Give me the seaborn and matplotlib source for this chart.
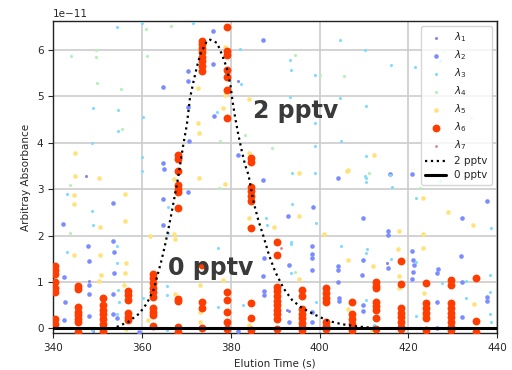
import numpy as np
import pandas as pd
import matplotlib
matplotlib.use("Agg")
import matplotlib.pyplot as plt
import seaborn as sns

# Absorbance values are listed in units of 1e-11
SCALE = 1e-11

# lambda_1 (faint violet)
lam1_t = [381.6, 348.1, 393.0, 415.2, 347.3, 392.6, 348.9]
lam1_a = [5.34, 1.03, 0.38, 1.41, 3.28, 0.40, -0.06]

# lambda_2 (blue)
lam2_t = [370.4, 370.3, 364.8, 370.4, 370.6, 364.8, 365.0,
          376.1, 387.2, 376.1, 376.2, 387.4, 381.7, 404.1, 420.8, 415.9,
          353.5, 364.8, 370.4, 342.3, 364.8, 347.9, 353.5, 353.7, 348.1, 353.7,
          342.5, 348.1, 353.5, 348.1, 342.6, 342.5, 348.1, 353.5, 354.3, 359.4,
          387.2, 398.5, 392.9, 398.3, 398.3, 398.4, 398.4, 387.4, 393.0, 387.2,
          404.1, 404.1, 404.1, 387.4, 387.4, 404.3, 404.3, 393.0, 398.4, 398.4, 381.6,
          409.7, 415.4, 415.4, 432.1, 437.7, 420.8, 421.1, 421.2, 421.0, 420.8,
          409.7, 415.4, 409.6, 426.6, 426.5, 431.9, 432.1, 437.7, 437.7, 409.7,
          409.7, 426.5, 432.1, 426.5]
lam2_a = [5.54, 5.32, 5.20, 4.76, 4.04, 3.56, 3.44,
          6.40, 6.22, 5.70, 4.58, 4.75, 3.74, 3.25, 3.33, 3.33,
          2.71, 2.79, 2.94, 2.25, 2.23, 1.78, 1.89, 1.64, 1.45, 1.20,
          1.11, 0.93, 0.75, 0.73, 0.57, 0.19, 0.27, 0.32, 0.22, -0.07,
          3.20, 2.61, 2.41, 1.77, 1.60, 1.51, 1.26, 1.51, 1.36, 1.13,
          1.35, 1.26, 0.99, 0.81, 0.72, 0.66, 0.59, 0.14, 0.36, 0.14, -0.06,
          2.38, 2.10, 2.01, 2.37, 2.74, 1.67, 1.47, 1.36, 1.22, 1.06,
          1.47, 1.31, 1.15, 1.27, 1.20, 1.56, 0.99, 0.68, 0.59, 0.50,
          0.37, 0.57, 0.24, 0.00]

# lambda_3 (light cyan)
lam3_t = [354.3, 359.9, 371.4, 348.9, 354.5, 360.3, 354.5, 348.7, 359.9, 359.9,
          382.1, 393.4, 393.6, 399.0, 404.7, 382.3, 393.4, 404.7, 376.9, 399.0,
          404.8, 399.0, 393.8, 399.0,
          410.3, 416.1, 421.6, 427.1, 410.5, 410.5, 410.3, 415.9,
          343.0, 348.7, 348.9, 343.2, 354.3, 354.3, 354.5, 354.9, 354.3, 360.2,
          365.6, 365.6, 365.8, 365.9, 348.7, 365.6,
          377.1, 393.8, 399.2, 404.9, 387.9, 388.1, 393.6, 393.6, 393.6, 382.7,
          377.1, 399.2,
          410.5, 410.5, 416.2, 427.2, 421.7, 438.6, 410.7, 410.5, 416.1, 421.7,
          427.6, 432.9, 438.5, 438.3, 432.9, 410.5, 421.7, 438.3, 438.6, 412.2]
lam3_a = [6.49, 6.58, 6.58, 4.75, 4.71, 4.55, 4.26, 3.99, 3.69, 3.40,
          6.02, 5.79, 5.56, 5.45, 6.21, 5.27, 4.98, 4.96, 4.66, 4.42,
          4.03, 3.92, 3.35, 3.35,
          6.00, 5.68, 5.63, 5.75, 4.80, 3.71, 3.28, 3.31,
          2.89, 2.53, 2.23, 1.65, 1.40, 1.78, 0.83, 0.57, 0.32, 0.66,
          0.92, 0.72, 2.62, 2.05, -0.04, -0.04,
          1.74, 2.69, 2.26, 1.78, 2.38, 2.23, 1.87, 1.81, 1.20, 0.50,
          0.47, 0.57,
          3.25, 3.16, 3.05, 3.17, 2.80, 2.17, 1.72, 1.63, 1.49, 1.42,
          0.97, 1.02, 1.15, 0.78, 0.65, 0.61, 0.27, 0.30, 0.14, 0.07]

# lambda_4 (pale green)
lam4_t = [366.5, 360.8, 349.6, 344.1, 349.6, 361.1, 349.8, 355.2, 355.4,
          394.5, 400.2, 405.6, 383.1, 377.6, 389.3,
          428.0, 434.0, 411.2, 343.8, 343.8, 377.4, 394.5, 422.7]
lam4_a = [6.52, 6.44, 5.99, 5.87, 5.85, 5.87, 5.29, 5.16, 4.30,
          5.88, 5.45, 5.43, 4.17, 4.03, 3.89,
          5.97, 4.53, 3.35, 3.09, 2.05, 3.02, 1.22, 3.03]

# lambda_5 (yellow)
lam5_t = [344.9, 344.9, 350.3, 372.7, 372.7, 372.9, 378.6, 384.0, 378.3, 378.6,
          384.0, 395.3, 406.2, 412.2, 406.4, 423.7, 372.9,
          344.7, 344.7, 356.2, 356.2, 350.5, 344.7, 350.5, 356.4, 350.8, 350.4,
          361.7, 367.3, 367.3, 367.4, 367.4, 356.4, 356.2, 356.0, 361.4,
          378.6, 384.0, 389.8, 384.1, 395.4, 400.9, 373.1, 378.3, 395.3, 373.1,
          373.1, 384.1,
          423.4, 428.9, 434.6, 417.8, 423.4, 417.6, 423.4, 406.4, 412.0, 417.8,
          417.8, 423.6, 434.7, 406.4, 423.6, 411.8, 418.2]
lam5_a = [3.78, 3.28, 3.25, 5.18, 4.42, 4.21, 6.06, 4.94, 4.75, 5.03,
          3.78, 3.35, 3.38, 3.74, 3.42, 3.31, 3.23,
          2.87, 2.69, 2.89, 2.32, 2.18, 1.58, 1.58, 1.40, 1.15, 1.02,
          2.00, 3.21, 2.03, 1.92, 0.75, -0.02, 1.19, 0.93, 0.18,
          3.10, 2.37, 2.19, 2.18, 2.41, 2.03, 0.93, 1.04, 1.06, 0.36,
          0.14, 0.07,
          2.80, 2.51, 2.23, 2.10, 2.03, 1.70, 1.74, 1.47, 1.35, 1.13,
          0.86, 0.77, 0.52, 0.42, 0.29, -0.04, -0.03]

# lambda_6 (red-orange), grouped by sampling time
lam6_t = [340.3] * 8 + [345.6] * 8 + [351.3] * 8 + [356.8] * 6 + [362.4] * 10 \
    + [368.2] * 11 + [373.6] * 12 + [379.1] * 12 + [384.6] * 10 + [390.3] * 11 \
    + [396.1] * 8 + [401.5] * 7 + [407.3] * 6 + [412.8] * 8 + [418.3] * 8 \
    + [424.0] * 6 + [429.6] * 9 + [435.3] * 3
lam6_a = [1.35, 1.25, 1.18, 1.00, 0.88, 0.78, 0.20, 0.10,
          0.92, 0.85, 0.45, 0.35, 0.28, 0.20, 0.14, -0.08,
          0.65, 0.50, 0.40, 0.30, 0.20, 0.10, 0.00, -0.05,
          0.80, 0.72, 0.62, 0.33, 0.25, 0.17,
          1.18, 1.08, 0.98, 0.88, 0.78, 0.68, 0.44, 0.36, 0.28, 0.05,
          3.73, 3.65, 3.40, 3.08, 3.00, 2.93, 2.60, 0.63, 0.58, 0.03, -0.07,
          6.20, 6.12, 6.05, 5.95, 5.85, 5.75, 5.65, 5.55, 1.36, 0.57, 0.44, 0.00,
          6.50, 5.98, 5.90, 5.57, 5.42, 5.14, 4.53, 0.79, 0.61, 0.36, 0.14, -0.02,
          3.67, 3.58, 3.05, 2.95, 2.85, 2.75, 2.16, 0.54, 0.22, -0.04,
          1.87, 1.58, 0.90, 0.80, 0.70, 0.60, 0.50, 0.40, 0.30, 0.20, -0.02,
          0.83, 0.70, 0.42, 0.32, 0.22, 0.12, 0.04, -0.04,
          0.86, 0.76, 0.66, 0.57, 0.14, 0.05, -0.02,
          0.56, 0.30, 0.20, 0.10, 0.00, -0.04,
          1.00, 0.92, 0.86, 0.57, 0.48, 0.39, 0.22, -0.02,
          1.45, 0.95, 0.44, 0.34, 0.24, 0.14, 0.04, -0.02,
          0.97, 0.54, 0.44, 0.34, 0.22, -0.04,
          1.04, 0.93, 0.54, 0.44, 0.34, 0.24, 0.14, 0.04, -0.04,
          1.08, 0.16, -0.07]

# lambda_7 (faint red)
lam7_t = [391.4]
lam7_a = [1.74]

# 2 pptv reference elution profile
peak_t = [354.3, 356.9, 359.4, 361.1, 362.6, 363.5, 364.4, 365.2, 365.9, 366.7,
          367.4, 368.1, 369.3, 370.1, 370.8, 371.6, 372.3, 373.1, 374.6, 375.3,
          376.9, 378.0, 379.1, 379.9, 380.4, 381.0, 381.7, 382.5, 383.2, 384.0,
          385.1, 386.2, 387.4, 388.6, 390.0, 391.9, 393.8, 396.0, 399.0, 402.0,
          405.0, 408.5, 412.0, 414.5]
peak_a = [0.03, 0.14, 0.32, 0.54, 0.83, 1.15, 1.47, 1.80, 2.12, 2.51,
          2.87, 3.23, 3.96, 4.39, 4.96, 5.32, 5.61, 5.90, 6.19, 6.22,
          6.15, 5.90, 5.61, 5.25, 4.89, 4.53, 4.17, 3.81, 3.53, 3.30,
          2.73, 2.33, 1.97, 1.58, 1.22, 0.86, 0.61, 0.44, 0.29, 0.16,
          0.09, 0.04, 0.01, 0.00]

# 0 pptv baseline
zero_t = [340, 440]
zero_a = [0.0, 0.0]

series = [
    (r"$\lambda_1$", lam1_t, lam1_a, "#8c86e6", 5),
    (r"$\lambda_2$", lam2_t, lam2_a, "#7b8cff", 11),
    (r"$\lambda_3$", lam3_t, lam3_a, "#7fdcff", 5),
    (r"$\lambda_4$", lam4_t, lam4_a, "#b4f2b4", 5),
    (r"$\lambda_5$", lam5_t, lam5_a, "#ffe27a", 11),
    (r"$\lambda_6$", lam6_t, lam6_a, "#ff3d00", 32),
    (r"$\lambda_7$", lam7_t, lam7_a, "#d98585", 4),
]

sns.set_style("ticks")
plt.rcParams.update({
    "font.family": ["DejaVu Sans"],
    "font.size": 7.5,
    "axes.labelsize": 7.5,
    "xtick.labelsize": 7.5,
    "ytick.labelsize": 7.5,
    "legend.fontsize": 7.5,
    "axes.edgecolor": "#222222",
    "axes.linewidth": 1.0,
})

fig = plt.figure(figsize=(5.12, 3.70), dpi=100)
ax = fig.add_axes([0.104, 0.099, 0.867, 0.844])

for label, t, a, color, size in series:
    df = pd.DataFrame({"t": t, "a": np.asarray(a) * SCALE})
    sns.scatterplot(data=df, x="t", y="a", ax=ax, color=color, s=size,
                    linewidth=0, label=label, zorder=3)

sns.lineplot(x=peak_t, y=np.asarray(peak_a) * SCALE, ax=ax, color="black",
             linestyle=":", linewidth=1.6, sort=False, label="2 pptv", zorder=5)
sns.lineplot(x=zero_t, y=np.asarray(zero_a) * SCALE, ax=ax, color="black",
             linestyle="-", linewidth=2.2, sort=False, label="0 pptv", zorder=5)

ax.text(394.5, 4.53 * SCALE, "2 pptv", ha="center", va="baseline",
        fontsize=17, fontweight="bold", color="#3a3a3a", zorder=6)
ax.text(375.4, 1.15 * SCALE, "0 pptv", ha="center", va="baseline",
        fontsize=17, fontweight="bold", color="#3a3a3a", zorder=6)

ax.set_xlim(340, 440)
ax.set_ylim(-0.108 * SCALE, 6.62 * SCALE)
ax.set_xticks([340, 360, 380, 400, 420, 440])
ax.set_yticks(np.arange(0, 7) * SCALE)
ax.grid(True, color="#cccccc", linewidth=1.2)
ax.set_axisbelow(True)
ax.set_xlabel("Elution Time (s)")
ax.set_ylabel("Arbitray Absorbance")

ax.legend(loc="upper right", frameon=True, framealpha=0.8,
          edgecolor="#cccccc", handlelength=2.0, labelspacing=0.4)

fig.savefig("out.png", dpi=100)
